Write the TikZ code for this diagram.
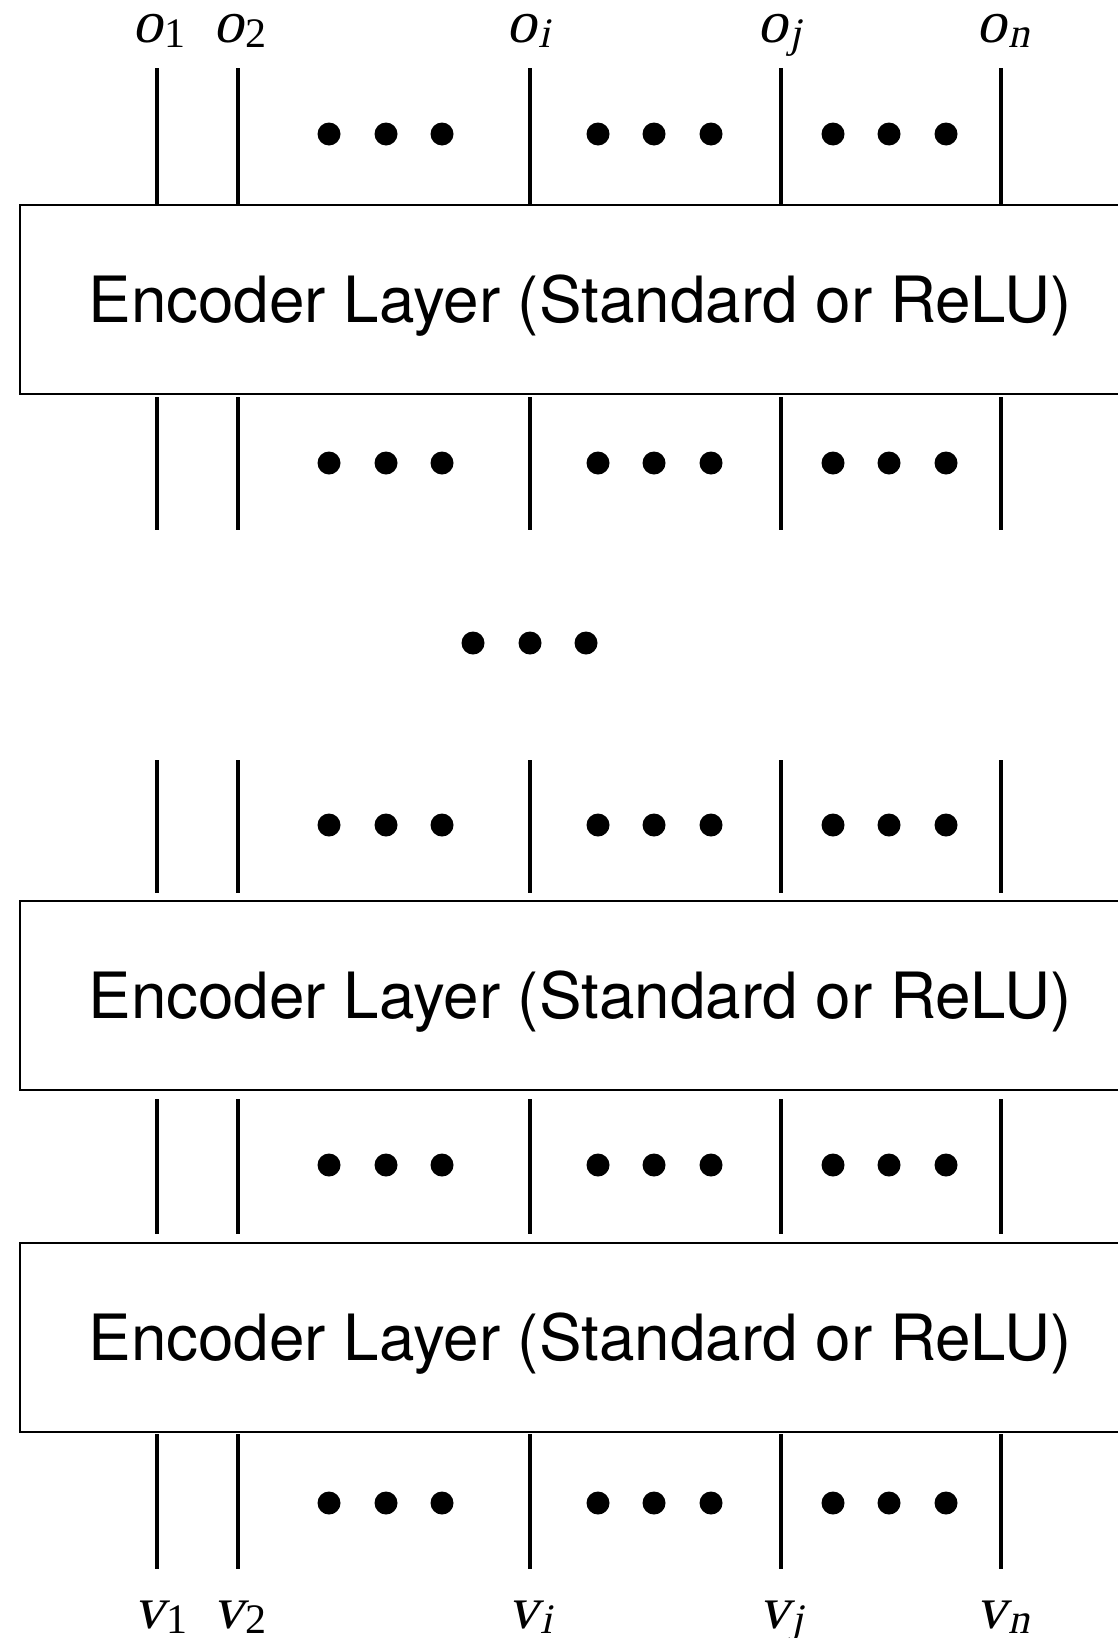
\documentclass[tikz,border=0pt]{standalone}
\usepackage{fontspec}
\setmainfont{TeX Gyre Heros}
\newfontfamily\labfont{Liberation Serif}
\newfontfamily\labit{Liberation Serif}[FakeSlant=0.22]
\newcommand{\lbl}[2]{{\labit #1}\kern2pt\raisebox{-5pt}{\fontsize{42}{42}\selectfont #2}}
\begin{document}
\begin{tikzpicture}[x=1pt,y=-1pt,
  wire/.style={line width=4pt},
  layer/.style={draw,line width=2pt,minimum width=1120pt,inner sep=0pt,text height=46pt,text depth=0pt,font=\fontsize{63.8}{63.8}\selectfont},
  lab/.style={anchor=base,inner sep=0pt,font=\fontsize{60}{60}\selectfont},
  dot/.style={circle,fill=black,inner sep=0pt,minimum size=23pt}]
\useasboundingbox (0,0) rectangle (1118,1638);
\clip (0,0) rectangle (1118,1638);
% layers
\node[layer,minimum height=189pt] (L1) at (580,299.5) {Encoder Layer (Standard or ReLU)};
\node[layer,minimum height=189pt] (L2) at (580,995.5) {Encoder Layer (Standard or ReLU)};
\node[layer,minimum height=189pt] (L3) at (580,1337) {Encoder Layer (Standard or ReLU)};
% labels
\node[lab] (o1) at (159,42) {\lbl{o}{\labfont 1}};
\node[lab] (o2) at (240,42) {\lbl{o}{\labfont 2}};
\node[lab] (oi) at (528,42) {\lbl{o}{\labit i}};
\node[lab] (oj) at (779,42) {\lbl{o}{\labit j}};
\node[lab] (on) at (1003,42) {\lbl{o}{\labit n}};
\node[lab] (v1) at (161,1628) {\lbl{v}{\labfont 1}};
\node[lab] (v2) at (240,1628) {\lbl{v}{\labfont 2}};
\node[lab] (vi) at (530,1628) {\lbl{v}{\labit i}};
\node[lab] (vj) at (781,1628) {\lbl{v}{\labit j}};
\node[lab] (vn) at (1003,1628) {\lbl{v}{\labit n}};
% wires
\foreach \x [count=\k] in {157,238,530,781,1001} {
  \coordinate (t\k) at (\x,68);
  \coordinate (a\k) at (\x,397);
  \coordinate (b\k) at (\x,530);
  \coordinate (c\k) at (\x,760);
  \coordinate (d\k) at (\x,893);
  \coordinate (e\k) at (\x,1099);
  \coordinate (f\k) at (\x,1234);
  \coordinate (g\k) at (\x,1434);
  \coordinate (h\k) at (\x,1569);
  \draw[wire] (t\k) -- (t\k |- L1.north);
  \draw[wire] (a\k) -- (b\k);
  \draw[wire] (c\k) -- (d\k);
  \draw[wire] (e\k) -- (f\k);
  \draw[wire] (g\k) -- (h\k);
}
% dots
\foreach \y [count=\r] in {134,463,825,1165,1503} {
  \foreach \x [count=\c] in {329,386,442,598,654,711,833,889,946} {
    \node[dot] (dot\r-\c) at (\x,\y) {};
  }
}
\node[dot] (md1) at (473,643) {};
\node[dot] (md2) at (530,643) {};
\node[dot] (md3) at (586,643) {};
\end{tikzpicture}
\end{document}
